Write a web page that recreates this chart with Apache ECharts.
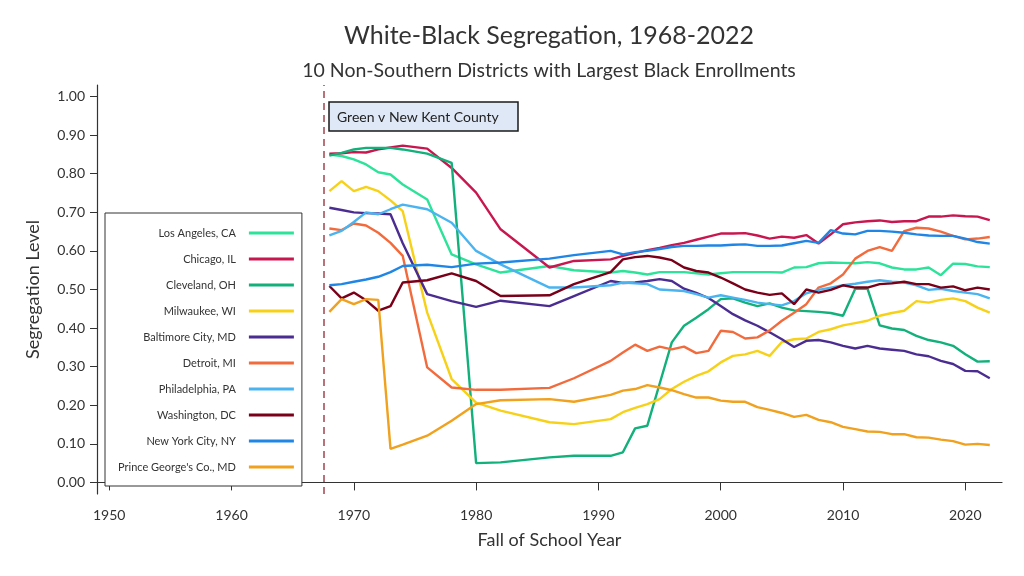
<!DOCTYPE html>
<html><head><meta charset="utf-8">
<script src="https://cdn.jsdelivr.net/npm/echarts@6/dist/echarts.min.js"></script>
<style>html,body{margin:0;padding:0;background:#fff}#c{width:1024px;height:576px}</style>
</head><body><div id="c"></div>
<script>
const years = [1968,1969,1970,1971,1972,1973,1974,1976,1978,1980,1982,1986,1988,
  1991,1992,1993,1994,1995,1996,1997,1998,1999,2000,2001,2002,2003,2004,2005,2006,
  2007,2008,2009,2010,2011,2012,2013,2014,2015,2016,2017,2018,2019,2020,2021,2022];

const losAngeles = [0.850,0.846,0.837,0.824,0.804,0.798,0.772,0.733,0.591,0.565,0.544,0.561,0.550,
  0.544,0.548,0.544,0.539,0.545,0.545,0.545,0.542,0.539,0.542,0.545,0.545,0.545,0.545,0.544,0.557,
  0.558,0.568,0.570,0.569,0.568,0.571,0.568,0.557,0.552,0.552,0.557,0.537,0.567,0.566,0.560,0.558];
const chicago = [0.852,0.853,0.856,0.855,0.863,0.868,0.873,0.865,0.815,0.751,0.656,0.557,0.574,
  0.578,0.587,0.595,0.602,0.608,0.615,0.621,0.629,0.637,0.645,0.645,0.646,0.640,0.632,0.637,0.634,
  0.641,0.619,0.643,0.669,0.674,0.677,0.679,0.675,0.677,0.677,0.689,0.689,0.692,0.690,0.689,0.680];
const cleveland = [0.847,0.854,0.863,0.867,0.867,0.867,0.863,0.852,0.828,0.050,0.052,0.065,0.069,
  0.069,0.078,0.140,0.147,0.255,0.363,0.406,0.427,0.449,0.475,0.477,0.466,0.457,0.464,0.453,0.446,
  0.444,0.442,0.439,0.432,0.502,0.502,0.407,0.399,0.395,0.380,0.369,0.363,0.354,0.332,0.313,0.314];
const milwaukee = [0.755,0.781,0.755,0.766,0.755,0.731,0.703,0.440,0.268,0.207,0.186,0.156,0.151,
  0.164,0.182,0.193,0.203,0.216,0.242,0.261,0.276,0.288,0.311,0.328,0.332,0.341,0.328,0.364,0.371,
  0.373,0.390,0.397,0.407,0.413,0.419,0.432,0.439,0.445,0.470,0.466,0.473,0.477,0.470,0.453,0.440];
const baltimore = [0.712,0.706,0.700,0.698,0.697,0.695,0.620,0.488,0.470,0.455,0.471,0.457,0.483,
  0.522,0.517,0.518,0.522,0.527,0.522,0.502,0.491,0.478,0.457,0.436,0.420,0.406,0.389,0.371,0.351,
  0.367,0.369,0.363,0.354,0.347,0.354,0.347,0.344,0.341,0.332,0.327,0.315,0.307,0.289,0.288,0.270];
const detroit = [0.658,0.654,0.671,0.666,0.647,0.621,0.587,0.298,0.246,0.240,0.240,0.245,0.270,
  0.315,0.337,0.357,0.341,0.352,0.345,0.352,0.335,0.341,0.393,0.390,0.373,0.376,0.394,0.419,0.440,
  0.462,0.505,0.516,0.539,0.580,0.600,0.610,0.600,0.651,0.660,0.658,0.650,0.639,0.630,0.632,0.636];
const philadelphia = [0.640,0.652,0.675,0.700,0.695,0.708,0.720,0.708,0.673,0.600,0.565,0.505,0.505,
  0.511,0.518,0.516,0.514,0.500,0.498,0.496,0.488,0.479,0.485,0.479,0.473,0.466,0.462,0.459,0.470,
  0.490,0.499,0.505,0.511,0.515,0.520,0.524,0.520,0.518,0.511,0.499,0.502,0.496,0.492,0.488,0.477];
const washington = [0.509,0.477,0.492,0.472,0.445,0.457,0.518,0.524,0.542,0.522,0.483,0.485,0.514,
  0.545,0.578,0.584,0.587,0.583,0.576,0.557,0.548,0.544,0.531,0.516,0.500,0.492,0.486,0.490,0.462,
  0.500,0.492,0.499,0.511,0.505,0.505,0.514,0.516,0.520,0.514,0.514,0.505,0.508,0.498,0.505,0.500];
const newYork = [0.511,0.514,0.520,0.526,0.533,0.545,0.561,0.564,0.558,0.567,0.570,0.580,0.589,
  0.600,0.591,0.597,0.600,0.605,0.610,0.613,0.613,0.614,0.614,0.616,0.617,0.613,0.613,0.614,0.620,
  0.626,0.621,0.654,0.645,0.643,0.652,0.652,0.650,0.647,0.643,0.640,0.639,0.639,0.632,0.623,0.619];
const princeGeorges = [0.442,0.475,0.462,0.475,0.473,0.087,0.098,0.121,0.160,0.203,0.213,0.216,0.209,
  0.227,0.238,0.242,0.252,0.246,0.239,0.229,0.220,0.220,0.212,0.209,0.209,0.195,0.188,0.180,0.170,
  0.175,0.162,0.156,0.144,0.138,0.132,0.131,0.125,0.125,0.117,0.116,0.111,0.107,0.098,0.100,0.097];

const seriesNames = ['Los Angeles, CA','Chicago, IL','Cleveland, OH','Milwaukee, WI','Baltimore City, MD',
  'Detroit, MI','Philadelphia, PA','Washington, DC','New York City, NY',"Prince George's Co., MD"];
const seriesValues = [losAngeles, chicago, cleveland, milwaukee, baltimore, detroit, philadelphia,
  washington, newYork, princeGeorges];
const palette = ['#2de39a','#c8174f','#12b07a','#f7d117','#4b2d91','#f26b3d','#4ab4f0','#7a0019','#1f86e6','#f0a11e'];

const xTickValues = [1950,1960,1970,1980,1990,2000,2010,2020];
const yTickValues = [0,0.1,0.2,0.3,0.4,0.5,0.6,0.7,0.8,0.9,1.0];
const courtCaseYear = 1967.5;
const courtCaseLabel = 'Green v New Kent County';

const FONT = 'Lato';
const chart = echarts.init(document.getElementById('c'), null, {renderer: 'canvas'});

const series = seriesNames.map((name, i) => {
  const s = {
    name: name,
    type: 'line',
    data: years.map((y, j) => [y, seriesValues[i][j]]),
    showSymbol: false,
    symbol: 'none',
    lineStyle: {width: 2.4, color: palette[i]},
    itemStyle: {color: palette[i]},
    emphasis: {disabled: true},
    animation: false
  };
  if (i === 0) {
    s.markLine = {
      silent: true,
      symbol: ['none', 'none'],
      label: {show: false},
      lineStyle: {color: '#a3434f', type: [7, 5], width: 1.5},
      data: [{xAxis: courtCaseYear}],
      animation: false
    };
  }
  return s;
});

chart.setOption({
  animation: false,
  textStyle: {fontFamily: FONT},
  grid: {left: 97, right: 22, top: 85, bottom: 82, containLabel: false},
  xAxis: {
    type: 'value', min: 1949, max: 2023,
    name: 'Fall of School Year', nameLocation: 'middle', nameGap: 37,
    nameTextStyle: {fontSize: 18, color: '#333', fontFamily: FONT},
    axisLine: {show: true, lineStyle: {color: '#333', width: 1.2}},
    axisTick: {show: true, length: 8, customValues: xTickValues, lineStyle: {color: '#333'}},
    axisLabel: {customValues: xTickValues, fontSize: 14, color: '#333', margin: 14, fontFamily: FONT,
      formatter: v => String(v)},
    splitLine: {show: false}
  },
  yAxis: {
    type: 'value', min: -0.03, max: 1.03,
    name: 'Segregation Level', nameLocation: 'middle', nameGap: 55,
    nameTextStyle: {fontSize: 18, color: '#333', fontFamily: FONT},
    axisLine: {show: true, lineStyle: {color: '#333', width: 1.2}},
    axisTick: {show: true, length: 7, customValues: yTickValues, lineStyle: {color: '#333'}},
    axisLabel: {customValues: yTickValues, fontSize: 14, color: '#333', margin: 12, fontFamily: FONT,
      formatter: v => Number(v).toFixed(2)},
    splitLine: {show: false}
  },
  legend: {
    data: seriesNames,
    orient: 'vertical', align: 'right',
    left: 105, top: 213,
    padding: [13, 8, 12, 13],
    backgroundColor: '#fff', borderColor: '#333', borderWidth: 1,
    icon: 'rect', itemWidth: 45, itemHeight: 3, itemGap: 12,
    selectedMode: false,
    textStyle: {fontSize: 11, color: '#333', fontFamily: FONT, lineHeight: 14, padding: [0, 8, 0, 0]}
  },
  graphic: [
    {type: 'text', x: 549, y: 36, silent: true,
      style: {text: 'White-Black Segregation, 1968-2022', font: '25px ' + FONT, fill: '#333',
        textAlign: 'center', textVerticalAlign: 'middle', align: 'center', verticalAlign: 'middle'}},
    {type: 'text', x: 549, y: 71, silent: true,
      style: {text: '10 Non-Southern Districts with Largest Black Enrollments', font: '19.5px ' + FONT, fill: '#333',
        textAlign: 'center', textVerticalAlign: 'middle', align: 'center', verticalAlign: 'middle'}},
    {type: 'rect', silent: true, shape: {x: 329, y: 102, width: 189, height: 29},
      style: {fill: '#dfe8f6', stroke: '#1a1a1a', lineWidth: 1.5}},
    {type: 'text', x: 337, y: 117, silent: true,
      style: {text: courtCaseLabel, font: '14px ' + FONT, fill: '#222',
        textVerticalAlign: 'middle', verticalAlign: 'middle'}}
  ],
  series: series
});
</script></body></html>
